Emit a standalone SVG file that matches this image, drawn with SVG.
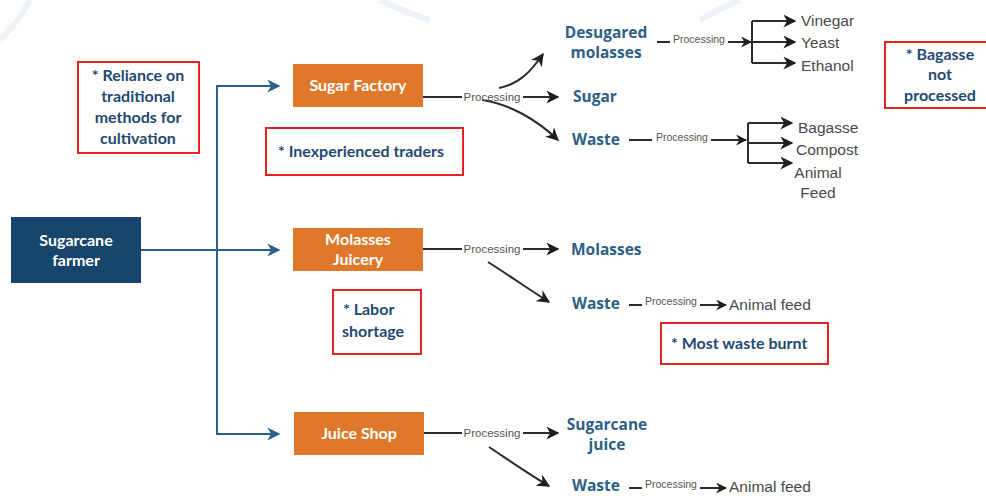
<svg xmlns="http://www.w3.org/2000/svg" width="986" height="496" viewBox="0 0 986 496">
<style>
.bg{fill:#ffffff}
.farmer{fill:#17456b}
.shop{fill:#e0782a}
.boxtxt{font-family:Lato,"Liberation Sans",sans-serif;font-weight:700;font-size:16px;fill:#ffffff;text-anchor:middle}
.note{fill:#ffffff;stroke:#e52222;stroke-width:2}
.notetxt{font-family:Lato,"Liberation Sans",sans-serif;font-weight:700;font-size:16px;fill:#1f4a72}
.prod{font-family:"Open Sans","Liberation Sans",sans-serif;font-weight:700;font-size:15.5px;fill:#2d5f86}
.gray{font-family:"Liberation Sans",Arial,sans-serif;font-size:15.5px;fill:#4a4a4a}
.proc{font-family:"Liberation Sans",Arial,sans-serif;font-size:11.5px;fill:#555555}
.procs{font-family:"Liberation Sans",Arial,sans-serif;font-size:10.5px;fill:#555555}
.blue{fill:none;stroke:#2b5f88;stroke-width:2}
.blk{fill:none;stroke:#2b2b2b;stroke-width:2}
.wm{fill:none;stroke:#eef3f9;stroke-width:6}
</style>
<defs>
<marker id="ab" viewBox="0 0 10 10" refX="9" refY="5" markerWidth="13" markerHeight="13" markerUnits="userSpaceOnUse" orient="auto">
<path d="M0,0 L10,5 L0,10 L3,5 z" fill="#2b5f88"/>
</marker>
<marker id="ak" viewBox="0 0 10 10" refX="9" refY="5" markerWidth="13" markerHeight="13" markerUnits="userSpaceOnUse" orient="auto">
<path d="M0,0 L10,5 L0,10 L3,5 z" fill="#1e1e1e"/>
</marker>
<marker id="aks" viewBox="0 0 10 10" refX="9" refY="5" markerWidth="11" markerHeight="11" markerUnits="userSpaceOnUse" orient="auto">
<path d="M0,0 L10,5 L0,10 L3,5 z" fill="#1e1e1e"/>
</marker>
</defs>
<rect class="bg" x="0" y="0" width="986" height="496"/>
<g id="watermark">
<path class="wm" d="M0,40 Q20,20 30,0"/>
<path class="wm" d="M380,0 Q400,10 430,20"/>
<path class="wm" d="M700,20 Q720,8 740,0"/>
</g>

<g id="connectors">
<path class="blue" d="M141,250 H279" marker-end="url(#ab)"/>
<path class="blue" d="M279,86 H217 V434 H279" marker-end="url(#ab)"/>
<path class="blue" d="M217,86 H279" marker-end="url(#ab)"/>

<path class="blk" d="M423,97 H462"/>
<path class="blk" d="M523,97 H558" marker-end="url(#ak)"/>
<path class="blk" d="M499,88 C520,84 532,70 543,54" marker-end="url(#ak)"/>
<path class="blk" d="M482,100 C510,104 537,120 558,140" marker-end="url(#ak)"/>

<path class="blk" d="M423,249 H462"/>
<path class="blk" d="M523,249 H558" marker-end="url(#ak)"/>
<path class="blk" d="M488,262 C510,276 530,290 549,302" marker-end="url(#ak)"/>

<path class="blk" d="M424,433 H462"/>
<path class="blk" d="M523,433 H558" marker-end="url(#ak)"/>
<path class="blk" d="M489,447 C510,461 530,475 549,486" marker-end="url(#ak)"/>

<path class="blk" d="M657,42 H670"/>
<path class="blk" d="M728,42 H751" marker-end="url(#aks)"/>
<path class="blk" d="M752,21 V63"/>
<path class="blk" d="M752,21 H795" marker-end="url(#ak)"/>
<path class="blk" d="M752,42 H795" marker-end="url(#ak)"/>
<path class="blk" d="M752,63 H795" marker-end="url(#ak)"/>

<path class="blk" d="M629,140 H652"/>
<path class="blk" d="M711,140 H746" marker-end="url(#aks)"/>
<path class="blk" d="M748,123 V163"/>
<path class="blk" d="M748,123 H792" marker-end="url(#ak)"/>
<path class="blk" d="M748,143 H792" marker-end="url(#ak)"/>
<path class="blk" d="M748,163 H792" marker-end="url(#ak)"/>

<path class="blk" d="M629,305 H642"/>
<path class="blk" d="M700,305 H726" marker-end="url(#aks)"/>
<path class="blk" d="M629,488 H642"/>
<path class="blk" d="M700,488 H726" marker-end="url(#aks)"/>

<text class="proc" x="492" y="101" text-anchor="middle">Processing</text>
<text class="proc" x="492" y="253" text-anchor="middle">Processing</text>
<text class="proc" x="492" y="437" text-anchor="middle">Processing</text>
<text class="procs" x="699" y="43" text-anchor="middle">Processing</text>
<text class="procs" x="682" y="141" text-anchor="middle">Processing</text>
<text class="procs" x="671" y="305" text-anchor="middle">Processing</text>
<text class="procs" x="671" y="488" text-anchor="middle">Processing</text>
</g>

<g id="farmer">
<rect class="farmer" x="11" y="217" width="130" height="66"/>
<text class="boxtxt" x="76" y="246">Sugarcane</text>
<text class="boxtxt" x="76" y="266">farmer</text>
</g>
<g id="sugar-factory">
<rect class="shop" x="293" y="64" width="130" height="43"/>
<text class="boxtxt" x="358" y="91">Sugar Factory</text>
</g>
<g id="molasses-juicery">
<rect class="shop" x="293" y="228" width="130" height="43"/>
<text class="boxtxt" x="358" y="245">Molasses</text>
<text class="boxtxt" x="358" y="265">Juicery</text>
</g>
<g id="juice-shop">
<rect class="shop" x="294" y="412" width="130" height="43"/>
<text class="boxtxt" x="359" y="439">Juice Shop</text>
</g>

<g id="note-reliance">
<rect class="note" x="78" y="62" width="121" height="91"/>
<text class="notetxt" text-anchor="middle" x="138" y="81">* Reliance on</text>
<text class="notetxt" text-anchor="middle" x="138" y="102">traditional</text>
<text class="notetxt" text-anchor="middle" x="138" y="123">methods for</text>
<text class="notetxt" text-anchor="middle" x="138" y="144">cultivation</text>
</g>
<g id="note-traders">
<rect class="note" x="266" y="128" width="197" height="47"/>
<text class="notetxt" x="278" y="157">* Inexperienced traders</text>
</g>
<g id="note-labor">
<rect class="note" x="333" y="290" width="88" height="64"/>
<text class="notetxt" x="343" y="315">* Labor</text>
<text class="notetxt" x="342" y="337">shortage</text>
</g>
<g id="note-burnt">
<rect class="note" x="661" y="323" width="167" height="41"/>
<text class="notetxt" x="671" y="349">* Most waste burnt</text>
</g>
<g id="note-bagasse">
<rect class="note" x="885" y="42" width="104" height="66"/>
<text class="notetxt" text-anchor="middle" x="940" y="60">* Bagasse</text>
<text class="notetxt" text-anchor="middle" x="940" y="80">not</text>
<text class="notetxt" text-anchor="middle" x="940" y="101">processed</text>
</g>

<g id="desugared-molasses">
<text class="prod" x="606" y="38" text-anchor="middle">Desugared</text>
<text class="prod" x="606" y="58" text-anchor="middle">molasses</text>
</g>
<g id="sugar"><text class="prod" x="573" y="102">Sugar</text></g>
<g id="waste-1"><text class="prod" x="572" y="145">Waste</text></g>
<g id="molasses"><text class="prod" x="571" y="255">Molasses</text></g>
<g id="waste-2"><text class="prod" x="572" y="309">Waste</text></g>
<g id="sugarcane-juice">
<text class="prod" x="607" y="430" text-anchor="middle">Sugarcane</text>
<text class="prod" x="607" y="450" text-anchor="middle">juice</text>
</g>
<g id="waste-3"><text class="prod" x="572" y="491">Waste</text></g>

<g id="vinegar"><text class="gray" x="801" y="26">Vinegar</text></g>
<g id="yeast"><text class="gray" x="801" y="48" fill="#222">Yeast</text></g>
<g id="ethanol"><text class="gray" x="801" y="71">Ethanol</text></g>
<g id="bagasse"><text class="gray" x="798" y="133">Bagasse</text></g>
<g id="compost"><text class="gray" x="796" y="155">Compost</text></g>
<g id="animal-feed-1">
<text class="gray" x="818" y="178" text-anchor="middle">Animal</text>
<text class="gray" x="818" y="198" text-anchor="middle">Feed</text>
</g>
<g id="animal-feed-2"><text class="gray" x="729" y="310">Animal feed</text></g>
<g id="animal-feed-3"><text class="gray" x="729" y="492">Animal feed</text></g>
</svg>
